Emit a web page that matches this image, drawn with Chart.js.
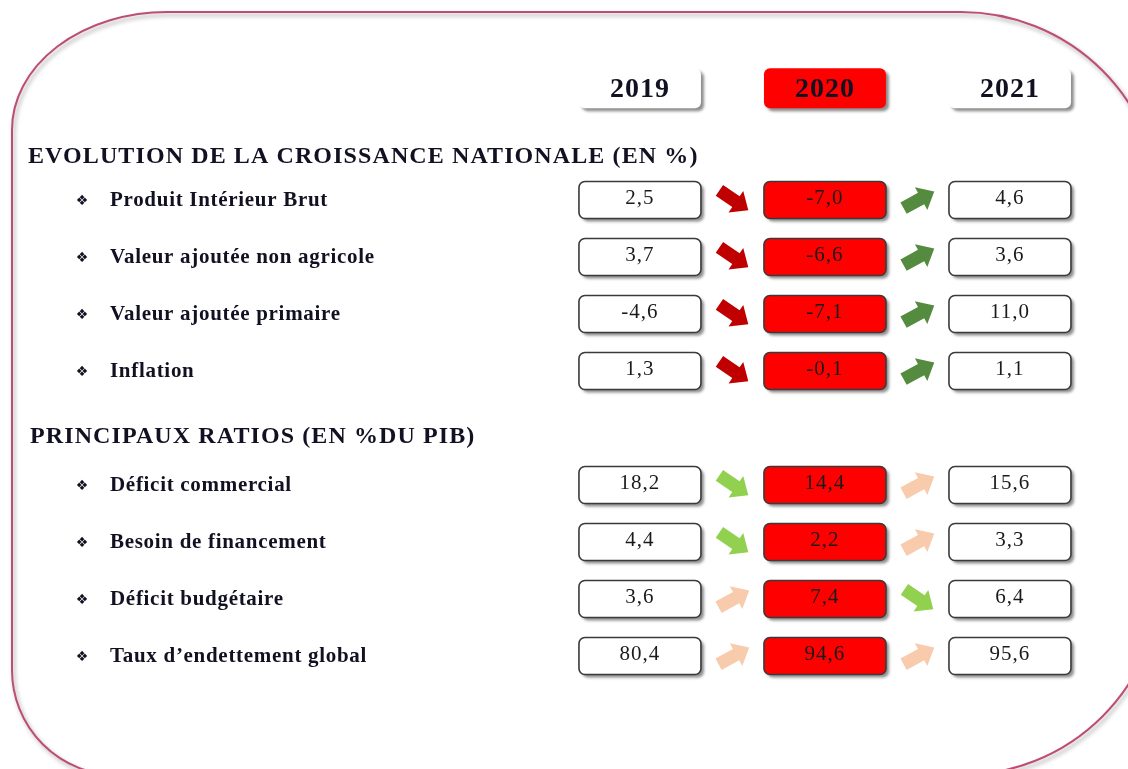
<!DOCTYPE html>
<html>
<head>
<meta charset="utf-8">
<script src="https://cdn.jsdelivr.net/npm/chart.js@4"></script>
<style>
  html, body { margin: 0; padding: 0; background: #ffffff; }
  canvas { display: block; }
</style>
</head>
<body>
<canvas id="chartSynthese" width="1128" height="769"></canvas>
<script>
// données
const annees = ['2019', '2020', '2021'];

const titreCroissance = 'EVOLUTION DE LA CROISSANCE NATIONALE (EN %)';
const indicateursCroissance = ['Produit Intérieur Brut', 'Valeur ajoutée non agricole', 'Valeur ajoutée primaire', 'Inflation'];
const croissance2019 = [2.5, 3.7, -4.6, 1.3];
const croissance2020 = [-7.0, -6.6, -7.1, -0.1];
const croissance2021 = [4.6, 3.6, 11.0, 1.1];

const titreRatios = 'PRINCIPAUX RATIOS (EN %DU PIB)';
const indicateursRatios = ['Déficit commercial', 'Besoin de financement', 'Déficit budgétaire', 'Taux d’endettement global'];
const ratios2019 = [18.2, 4.4, 3.6, 80.4];
const ratios2020 = [14.4, 2.2, 7.4, 94.6];
const ratios2021 = [15.6, 3.3, 6.4, 95.6];

// rangées : 0..3 croissance, 5..8 ratios
const libelles = indicateursCroissance.concat(indicateursRatios);
const valeursParAnnee = [
  croissance2019.concat(ratios2019),
  croissance2020.concat(ratios2020),
  croissance2021.concat(ratios2021)
];
const rangees = [0, 1, 2, 3, 5, 6, 7, 8];
const section = [0, 0, 0, 0, 1, 1, 1, 1];

const COL = {
  rouge: '#ff0000',
  bord: '#3a3a3a',
  cadre: '#bd4d77',
  flecheBaisse: '#c00000',
  flecheHausse: '#558b3e',
  ratioBaisse: '#92d050',
  ratioHausse: '#f8cbad'
};

const fmt = v => v.toFixed(1).replace('.', ',');

function boite(ctx, x, y, w, h, r, fill, stroke) {
  ctx.save();
  ctx.shadowColor = 'rgba(0,0,0,0.45)';
  ctx.shadowBlur = 3;
  ctx.shadowOffsetX = 3;
  ctx.shadowOffsetY = 3;
  ctx.beginPath();
  ctx.roundRect(x - w / 2, y - h / 2, w, h, r);
  ctx.fillStyle = fill;
  ctx.fill();
  ctx.restore();
  if (stroke) {
    ctx.save();
    ctx.beginPath();
    ctx.roundRect(x - w / 2, y - h / 2, w, h, r);
    ctx.lineWidth = 1.6;
    ctx.strokeStyle = stroke;
    ctx.stroke();
    ctx.restore();
  }
}

function fleche(ctx, cx, cy, angle, couleur) {
  ctx.save();
  ctx.translate(cx, cy);
  ctx.rotate(angle);
  ctx.beginPath();
  ctx.moveTo(-17, -6.5);
  ctx.lineTo(3, -6.5);
  ctx.lineTo(3, -13);
  ctx.lineTo(18, 0);
  ctx.lineTo(3, 13);
  ctx.lineTo(3, 6.5);
  ctx.lineTo(-17, 6.5);
  ctx.closePath();
  ctx.fillStyle = couleur;
  ctx.fill();
  ctx.restore();
}

const cadrePlugin = {
  id: 'cadre',
  beforeDraw(chart) {
    const ctx = chart.ctx;
    ctx.save();
    ctx.shadowColor = 'rgba(0,0,0,0.35)';
    ctx.shadowBlur = 4;
    ctx.shadowOffsetX = 2;
    ctx.shadowOffsetY = 3;
    ctx.beginPath();
    ctx.roundRect(12, 12, 1149, 763, [{ x: 155, y: 118 }, 200, 200, 105]);
    ctx.lineWidth = 2;
    ctx.strokeStyle = COL.cadre;
    ctx.stroke();
    ctx.restore();
  }
};

const tableauPlugin = {
  id: 'tableau',
  afterDatasetsDraw(chart) {
    const ctx = chart.ctx;
    const y = chart.scales.y;
    const serif = "'Liberation Serif', 'Times New Roman', serif";

    // en-têtes des années
    const entetes = chart.getDatasetMeta(3).data;
    entetes.forEach((pt, i) => {
      boite(ctx, pt.x, pt.y, 122, 40, 6, i === 1 ? COL.rouge : '#ffffff', null);
      ctx.save();
      ctx.fillStyle = '#111122';
      ctx.font = 'bold 28px ' + serif;
      ctx.letterSpacing = '1px';
      ctx.textAlign = 'center';
      ctx.textBaseline = 'middle';
      ctx.fillText(annees[i], pt.x, pt.y + 1);
      ctx.restore();
    });

    // titres de section
    ctx.save();
    ctx.fillStyle = '#111122';
    ctx.font = 'bold 24px ' + serif;
    ctx.textAlign = 'left';
    ctx.textBaseline = 'middle';
    ctx.letterSpacing = '1.1px';
    ctx.fillText(titreCroissance, 28, y.getPixelForValue(-0.75));
    ctx.fillText(titreRatios, 30, y.getPixelForValue(4.15));
    ctx.restore();

    // libellés
    libelles.forEach((lib, i) => {
      const py = y.getPixelForValue(rangees[i]);
      ctx.save();
      ctx.fillStyle = '#111122';
      ctx.textBaseline = 'middle';
      ctx.textAlign = 'center';
      ctx.font = '14px "DejaVu Sans"';
      ctx.fillText('❖', 82, py + 1);
      ctx.textAlign = 'left';
      ctx.font = 'bold 21px ' + serif;
      ctx.letterSpacing = '0.7px';
      ctx.fillText(lib, 110, py + 1);
      ctx.restore();
    });

    // flèches entre colonnes
    for (let c = 0; c < 2; c++) {
      const a = chart.getDatasetMeta(c).data;
      const b = chart.getDatasetMeta(c + 1).data;
      a.forEach((pt, i) => {
        const hausse = valeursParAnnee[c + 1][i] > valeursParAnnee[c][i];
        let couleur;
        if (section[i] === 0) couleur = hausse ? COL.flecheHausse : COL.flecheBaisse;
        else couleur = hausse ? COL.ratioHausse : COL.ratioBaisse;
        const ang = hausse ? -0.5 : 0.6;
        fleche(ctx, (pt.x + b[i].x) / 2 + 1, (pt.y + b[i].y) / 2, ang, couleur);
      });
    }

    // boîtes des valeurs
    for (let c = 0; c < 3; c++) {
      chart.getDatasetMeta(c).data.forEach((pt, i) => {
        boite(ctx, pt.x, pt.y, 122, 37, 6, c === 1 ? COL.rouge : '#ffffff', COL.bord);
        ctx.save();
        ctx.fillStyle = '#1a1a1a';
        ctx.font = '21px ' + serif;
        ctx.letterSpacing = '1px';
        ctx.textAlign = 'center';
        ctx.textBaseline = 'middle';
        ctx.fillText(fmt(valeursParAnnee[c][i]), pt.x, pt.y - 2);
        ctx.restore();
      });
    }
  }
};

new Chart(document.getElementById('chartSynthese'), {
  type: 'scatter',
  data: {
    datasets: [
      { label: annees[0], data: rangees.map(r => ({ x: 0, y: r })), pointRadius: 0 },
      { label: annees[1], data: rangees.map(r => ({ x: 1, y: r })), pointRadius: 0 },
      { label: annees[2], data: rangees.map(r => ({ x: 2, y: r })), pointRadius: 0 },
      { label: 'entetes', data: annees.map((a, i) => ({ x: i, y: -1.96 })), pointRadius: 0 }
    ]
  },
  options: {
    responsive: false,
    animation: false,
    events: [],
    layout: { padding: 0, autoPadding: false },
    plugins: { legend: { display: false }, tooltip: { enabled: false } },
    scales: {
      x: { type: 'linear', display: false, min: -3.459, max: 2.638 },
      y: { type: 'linear', display: false, reverse: true, min: -3.509, max: 9.982 }
    }
  },
  plugins: [cadrePlugin, tableauPlugin]
});
</script>
</body>
</html>
